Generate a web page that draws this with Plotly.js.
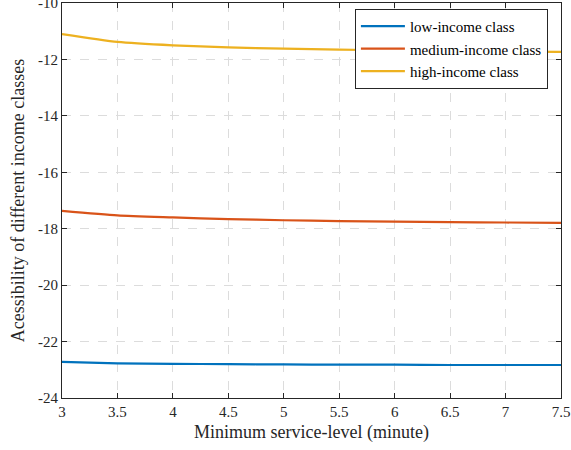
<!DOCTYPE html>
<html>
<head>
<meta charset="utf-8">
<script src="https://cdn.plot.ly/plotly-3.0.1.min.js"></script>
<style>html,body{margin:0;padding:0;background:#fff;}#chart{width:571px;height:450px;}</style>
</head>
<body>
<div id="chart"></div>
<script>
const serviceLevel = [3, 3.5, 4, 4.5, 5, 5.5, 6, 6.5, 7, 7.5];
const lowIncome = [-22.72, -22.77, -22.79, -22.80, -22.81, -22.82, -22.82, -22.83, -22.83, -22.83];
const mediumIncome = [-17.37, -17.53, -17.60, -17.66, -17.70, -17.73, -17.75, -17.77, -17.78, -17.79];
const highIncome = [-11.10, -11.38, -11.50, -11.57, -11.62, -11.65, -11.68, -11.70, -11.72, -11.73];
const seriesNames = ['low-income class', 'medium-income class', 'high-income class'];
const xTicks = [3, 3.5, 4, 4.5, 5, 5.5, 6, 6.5, 7, 7.5];
const yTicks = [-24, -22, -20, -18, -16, -14, -12, -10];

const colors = ['#0072BD', '#D95319', '#EDB120'];
const serif = "'Liberation Serif', 'DejaVu Serif', serif";

const traces = [lowIncome, mediumIncome, highIncome].map((ys, i) => ({
  x: serviceLevel, y: ys, type: 'scatter', mode: 'lines',
  name: seriesNames[i], line: {color: colors[i], width: 2.2, shape: 'spline', smoothing: 0.6}
}));

const axisCommon = {
  showline: true, linecolor: '#262626', linewidth: 1, mirror: 'ticks',
  ticks: 'inside', ticklen: 5, tickcolor: '#262626',
  showgrid: true, gridcolor: '#dcdcdc', griddash: 'dash', gridwidth: 1,
  zeroline: false, ticklabeloverflow: 'allow',
  tickfont: {family: serif, size: 15, color: '#262626'}
};

const layout = {
  width: 571, height: 450,
  margin: {l: 62, r: 10, t: 3, b: 52},
  paper_bgcolor: '#fff', plot_bgcolor: '#fff',
  font: {family: serif, color: '#262626'},
  xaxis: Object.assign({}, axisCommon, {
    range: [3, 7.5], tickvals: xTicks, ticktext: xTicks.map(String),
    title: {text: 'Minimum service-level (minute)', font: {family: serif, size: 18, color: '#262626'}, standoff: 6}
  }),
  yaxis: Object.assign({}, axisCommon, {
    range: [-24, -10], tickvals: yTicks, ticktext: yTicks.map(String),
    title: {text: 'Acessibility of different income classes', font: {family: serif, size: 18, color: '#262626'}, standoff: 8}
  }),
  legend: {
    x: 0.587, y: 0.985, xanchor: 'left', yanchor: 'top',
    bgcolor: '#fff', bordercolor: '#262626', borderwidth: 1,
    font: {family: serif, size: 15, color: '#000'},
    tracegroupgap: 0, itemwidth: 44
  },
  showlegend: true
};

Plotly.newPlot('chart', traces, layout, {displayModeBar: false, staticPlot: true});
</script>
</body>
</html>
